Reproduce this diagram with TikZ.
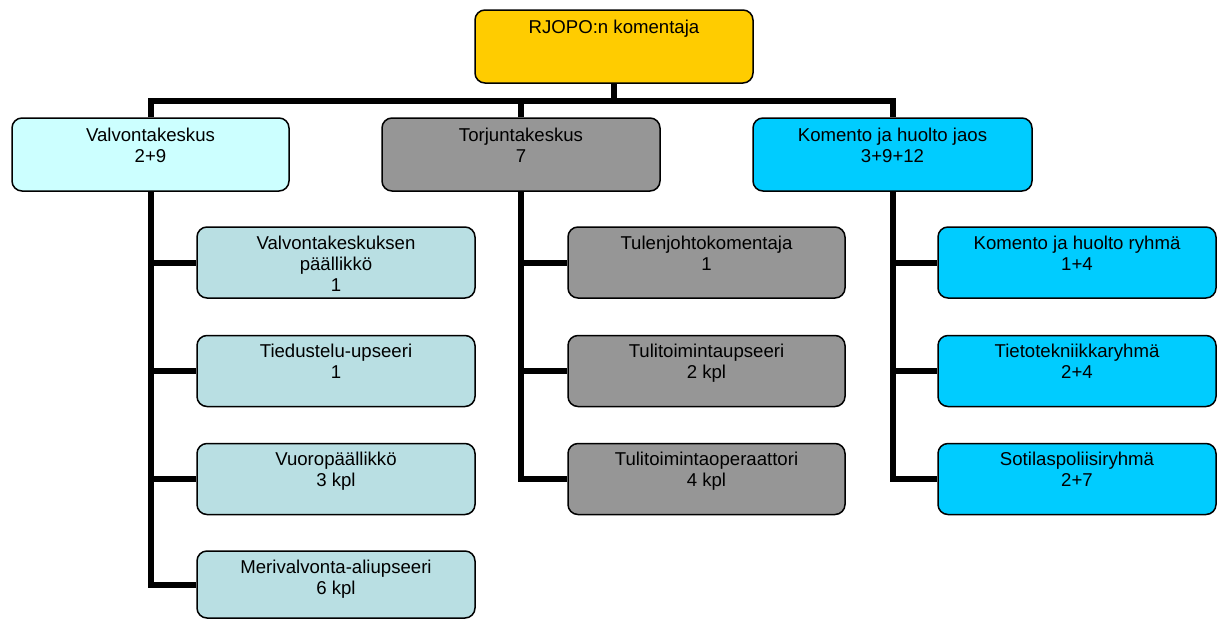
\documentclass[tikz,border=0pt]{standalone}
\usepackage{fontspec}
\setmainfont{Liberation Sans}
\definecolor{chiefgold}{RGB}{255,204,0}
\definecolor{paleaqua}{RGB}{204,255,255}
\definecolor{unitgray}{RGB}{150,150,150}
\definecolor{mistblue}{RGB}{185,223,227}
\definecolor{skyblue}{RGB}{0,204,255}
% text block of a box: width, height, first baseline offset, lines
\newcommand{\boxlines}[4]{\parbox[c][#2pt][t]{#1pt}{\centering\rule{0pt}{#3pt}#4}}
\tikzset{
  orgbox/.style={draw=black, line width=1.5pt, rounded corners=10pt, inner sep=0pt,
                 font=\fontsize{18.6}{21}\selectfont},
  link/.style={line width=6pt, line join=miter, line cap=butt},
}
\begin{document}
\begin{tikzpicture}[x=1pt, y=-1pt]
\useasboundingbox (0,0) rectangle (1221,619);

% head of the organisation
\node[orgbox, fill=chiefgold] (chief) at (614,46.5) {\boxlines{278}{73}{23.5}{RJOPO:n komentaja}};

% sections
\node[orgbox, fill=paleaqua] (vk) at (150.5,154.5) {\boxlines{277}{73}{23.5}{Valvontakeskus\\2+9}};
\node[orgbox, fill=unitgray] (tk) at (521,154.5) {\boxlines{278}{73}{23.5}{Torjuntakeskus\\7}};
\node[orgbox, fill=skyblue] (kh) at (892.5,154.5) {\boxlines{279}{73}{23.5}{Komento ja huolto jaos\\3+9+12}};

% Valvontakeskus staff
\node[orgbox, fill=mistblue] (vk1) at (336,262.5) {\boxlines{278}{71}{22}{Valvontakeskuksen\\päällikkö\\1}};
\node[orgbox, fill=mistblue] (vk2) at (336,371) {\boxlines{278}{71}{22}{Tiedustelu-upseeri\\1}};
\node[orgbox, fill=mistblue] (vk3) at (336,479) {\boxlines{278}{71}{22}{Vuoropäällikkö\\3 kpl}};
\node[orgbox, fill=mistblue] (vk4) at (336,584.5) {\boxlines{278}{67}{22}{Merivalvonta-aliupseeri\\6 kpl}};

% Torjuntakeskus staff
\node[orgbox, fill=unitgray] (tk1) at (706.5,262.5) {\boxlines{277}{71}{22}{Tulenjohtokomentaja\\1}};
\node[orgbox, fill=unitgray] (tk2) at (706.5,371) {\boxlines{277}{71}{22}{Tulitoimintaupseeri\\2 kpl}};
\node[orgbox, fill=unitgray] (tk3) at (706.5,479) {\boxlines{277}{71}{22}{Tulitoimintaoperaattori\\4 kpl}};

% Komento ja huolto jaos groups
\node[orgbox, fill=skyblue] (kh1) at (1077,262.5) {\boxlines{278}{71}{22}{Komento ja huolto ryhmä\\1+4}};
\node[orgbox, fill=skyblue] (kh2) at (1077,371) {\boxlines{278}{71}{22}{Tietotekniikkaryhmä\\2+4}};
\node[orgbox, fill=skyblue] (kh3) at (1077,479) {\boxlines{278}{71}{22}{Sotilaspoliisiryhmä\\2+7}};

% connectors
\coordinate (bar) at (614,100.5);
\begin{scope}[on background layer/.try]
\draw[link] (chief.south) -- (chief.south |- bar);
\draw[link] (vk.north) -- (vk.north |- bar) -- (kh.north |- bar) -- (kh.north);
\draw[link] (tk.north) -- (tk.north |- bar);
\foreach \c in {vk1,vk2,vk3,vk4} \draw[link] (vk.south) |- (\c.west);
\foreach \c in {tk1,tk2,tk3} \draw[link] (tk.south) |- (\c.west);
\foreach \c in {kh1,kh2,kh3} \draw[link] (kh.south) |- (\c.west);
\end{scope}
\end{tikzpicture}
\end{document}
